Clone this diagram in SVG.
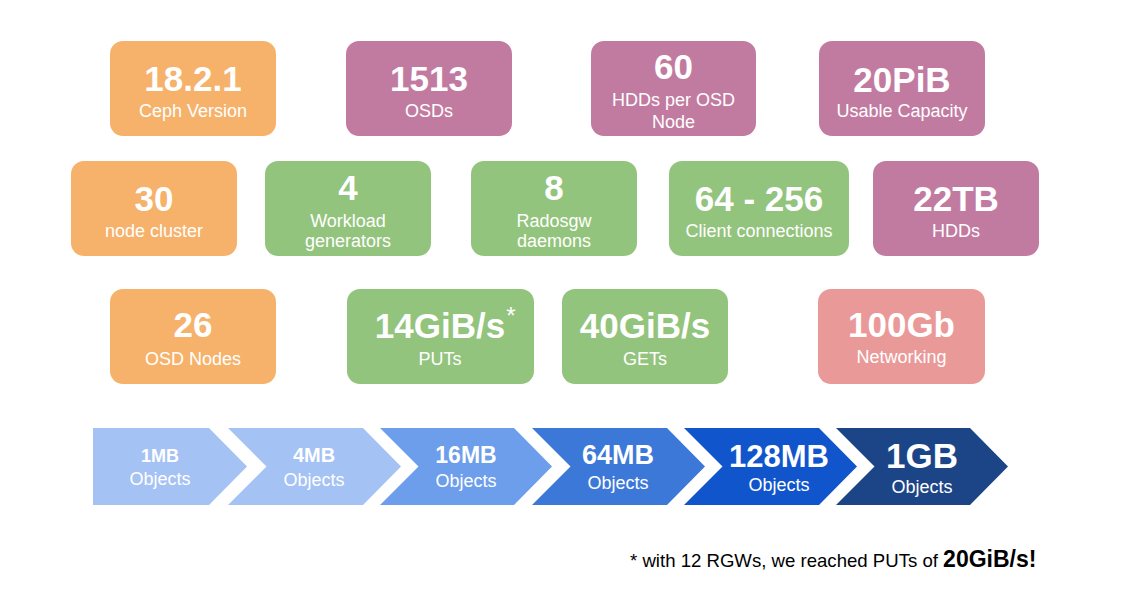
<svg xmlns="http://www.w3.org/2000/svg" width="1143" height="614" viewBox="0 0 1143 614">
<style>
text{font-family:"Liberation Sans",Arial,sans-serif;fill:#fff;text-anchor:middle}
.big{font-size:35px;font-weight:bold}
.sub{font-size:18px}
.or{fill:#F6B26B}.pu{fill:#C27BA0}.gr{fill:#93C47D}.pk{fill:#EA9999}
.a1{fill:#A4C2F4}.a2{fill:#6D9EEB}.a3{fill:#3C78D8}.a4{fill:#1155CC}.a5{fill:#1C4587}
.ab{font-weight:bold}
.foot{fill:#000;text-anchor:start;font-size:18.6px}
</style>
<rect width="1143" height="614" fill="#fff"/>
<g id="n-version"><rect class="or" x="110" y="41" width="166" height="95" rx="13"/><text class="big" x="193" y="91">18.2.1</text><text class="sub" x="193" y="117">Ceph Version</text></g>
<g id="n-osds"><rect class="pu" x="346" y="41" width="166" height="95" rx="13"/><text class="big" x="429" y="91">1513</text><text class="sub" x="429" y="117">OSDs</text></g>
<g id="n-hdds-per-node"><rect class="pu" x="591" y="41" width="165" height="95" rx="13"/><text class="big" x="673.5" y="79">60</text><text class="sub" x="673.5" y="106">HDDs per OSD</text><text class="sub" x="673.5" y="128">Node</text></g>
<g id="n-capacity"><rect class="pu" x="819" y="41" width="166" height="95" rx="13"/><text class="big" x="902" y="92">20PiB</text><text class="sub" x="902" y="117">Usable Capacity</text></g>

<g id="n-cluster"><rect class="or" x="71" y="161" width="166" height="95" rx="13"/><text class="big" x="154" y="211">30</text><text class="sub" x="154" y="237">node cluster</text></g>
<g id="n-workload"><rect class="gr" x="265" y="161" width="166" height="95" rx="13"/><text class="big" x="348" y="200">4</text><text class="sub" x="348" y="227">Workload</text><text class="sub" x="348" y="247">generators</text></g>
<g id="n-radosgw"><rect class="gr" x="471" y="161" width="166" height="95" rx="13"/><text class="big" x="554" y="200">8</text><text class="sub" x="554" y="227">Radosgw</text><text class="sub" x="554" y="247">daemons</text></g>
<g id="n-clients"><rect class="gr" x="669" y="161" width="180" height="95" rx="13"/><text class="big" x="759" y="211">64 - 256</text><text class="sub" x="759" y="237">Client connections</text></g>
<g id="n-hdds"><rect class="pu" x="873" y="161" width="166" height="95" rx="13"/><text class="big" x="956" y="211">22TB</text><text class="sub" x="956" y="237">HDDs</text></g>

<g id="n-osd-nodes"><rect class="or" x="110" y="289" width="166" height="95" rx="13"/><text class="big" x="193" y="337">26</text><text class="sub" x="193" y="365">OSD Nodes</text></g>
<g id="n-puts"><rect class="gr" x="347" y="289" width="187" height="95" rx="13"/><text class="big" x="440" y="338">14GiB/s</text><text x="511" y="324" style="font-size:24px">*</text><text class="sub" x="440" y="365">PUTs</text></g>
<g id="n-gets"><rect class="gr" x="562" y="289" width="166" height="95" rx="13"/><text class="big" x="645" y="338">40GiB/s</text><text class="sub" x="645" y="365">GETs</text></g>
<g id="n-network"><rect class="pk" x="818" y="289" width="167" height="95" rx="13"/><text class="big" x="901.5" y="337">100Gb</text><text class="sub" x="901.5" y="363">Networking</text></g>

<g id="n-1mb"><polygon class="a1" points="93,428 209,428 247,466.5 209,505 93,505"/><text class="ab" x="160" y="462" style="font-size:18px">1MB</text><text class="sub" x="160" y="485">Objects</text></g>
<g id="n-4mb"><polygon class="a1" points="228,428 363,428 401,466.5 363,505 228,505 266.5,466.5"/><text class="ab" x="314" y="462" style="font-size:20px">4MB</text><text class="sub" x="314" y="486">Objects</text></g>
<g id="n-16mb"><polygon class="a2" points="380,428 514,428 552,466.5 514,505 380,505 418.5,466.5"/><text class="ab" x="466" y="463" style="font-size:23px">16MB</text><text class="sub" x="466" y="487">Objects</text></g>
<g id="n-64mb"><polygon class="a3" points="532,428 667,428 705,466.5 667,505 532,505 570.5,466.5"/><text class="ab" x="618" y="464" style="font-size:27px">64MB</text><text class="sub" x="618" y="489">Objects</text></g>
<g id="n-128mb"><polygon class="a4" points="684,428 819,428 857,466.5 819,505 684,505 722.5,466.5"/><text class="ab" x="779" y="467" style="font-size:31px">128MB</text><text class="sub" x="779" y="491">Objects</text></g>
<g id="n-1gb"><polygon class="a5" points="836,428 970,428 1008,466.5 970,505 836,505 874.5,466.5"/><text class="ab" x="922" y="468" style="font-size:35px">1GB</text><text class="sub" x="922" y="493">Objects</text></g>

<g id="connectors"></g>

<text class="foot" x="630" y="567">* with 12 RGWs, we reached PUTs of <tspan style="font-weight:bold;font-size:23px">20GiB/s!</tspan></text>
</svg>
